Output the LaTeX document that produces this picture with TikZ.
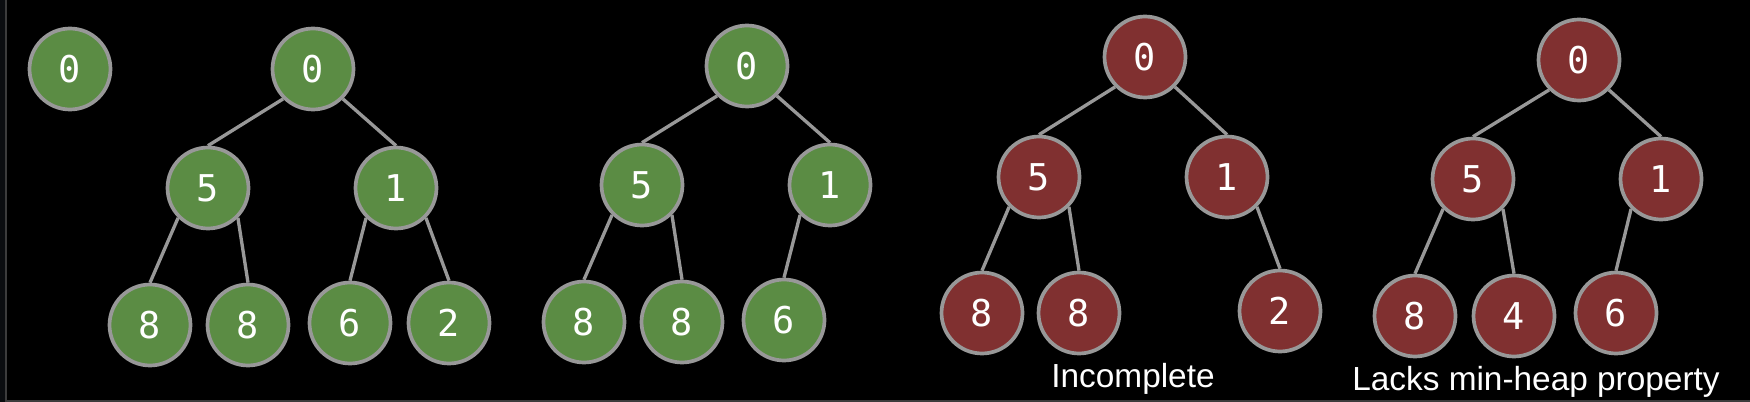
\documentclass[tikz,border=0pt]{standalone}
\usepackage{fontspec}
\setmainfont{Liberation Sans}
\newfontfamily\keyfont{DejaVu Sans Mono}
\usepackage{tikz}
\usetikzlibrary{positioning}
\definecolor{heapgreen}{RGB}{91,140,68}
\definecolor{heapred}{RGB}{128,48,48}
\definecolor{rimgray}{RGB}{152,152,152}
\definecolor{framegray}{RGB}{60,60,60}
\definecolor{stripgray}{RGB}{11,13,16}
\tikzstyle{keynode} = [circle, draw=rimgray, line width=2.1pt, minimum size=1.62cm, inner sep=0pt, text=white, font=\keyfont\fontsize{21}{21}\selectfont]
\tikzstyle{goodheap} = [keynode, fill=heapgreen]
\tikzstyle{badheap} = [keynode, fill=heapred]
\tikzstyle{edge} = [draw=rimgray, line width=1.9pt]
\tikzstyle{caption} = [text=white, anchor=base, inner sep=0pt, font=\fontsize{19}{19}\selectfont]

\begin{document}
\begin{tikzpicture}[x=0.02cm, y=-0.02cm]
%% background
\useasboundingbox (0, 0) rectangle (1750, 402);
\fill[black] (0, 0) rectangle (1750, 402);
\fill[stripgray] (0, 0) rectangle (5.5, 402);
\draw[framegray, line width=0.8pt] (6, 0) -- (6, 401) -- (1750, 401);

%% single node
\node[goodheap] (S0) at (70, 69) {0};

%% full heap
\begin{scope}[shift={(313, 69)}]
\node[goodheap] (A0) at (0, 0) {0};
\node[goodheap] (A5) at (-105, 119) {5};
\node[goodheap] (A1) at (83, 119) {1};
\node[goodheap] (A8l) at (-163, 256) {8};
\node[goodheap] (A8r) at (-65, 256) {8};
\node[goodheap] (A6) at (37, 254) {6};
\node[goodheap] (A2) at (136, 254) {2};
\draw[edge] (A0.south west) -- (A5.north);
\draw[edge] (A0.south east) -- (A1.north);
\draw[edge] (A5.south west) -- (A8l.north);
\draw[edge] (A5.south east) -- (A8r.north);
\draw[edge] (A1.south west) -- (A6.north);
\draw[edge] (A1.south east) -- (A2.north);
\end{scope}

%% last level filled from the left
\begin{scope}[shift={(747, 66)}]
\node[goodheap] (B0) at (0, 0) {0};
\node[goodheap] (B5) at (-105, 119) {5};
\node[goodheap] (B1) at (83, 119) {1};
\node[goodheap] (B8l) at (-163, 256) {8};
\node[goodheap] (B8r) at (-65, 256) {8};
\node[goodheap] (B6) at (37, 254) {6};
\draw[edge] (B0.south west) -- (B5.north);
\draw[edge] (B0.south east) -- (B1.north);
\draw[edge] (B5.south west) -- (B8l.north);
\draw[edge] (B5.south east) -- (B8r.north);
\draw[edge] (B1.south west) -- (B6.north);
\end{scope}

%% gap in the last level
\begin{scope}[shift={(1145, 57)}]
\node[badheap] (C0) at (0, 0) {0};
\node[badheap] (C5) at (-106, 120) {5};
\node[badheap] (C1) at (82, 120) {1};
\node[badheap] (C8l) at (-163, 256) {8};
\node[badheap] (C8r) at (-66, 256) {8};
\node[badheap] (C2) at (135, 254) {2};
\draw[edge] (C0.south west) -- (C5.north);
\draw[edge] (C0.south east) -- (C1.north);
\draw[edge] (C5.south west) -- (C8l.north);
\draw[edge] (C5.south east) -- (C8r.north);
\draw[edge] (C1.south east) -- (C2.north);
\end{scope}
\node[caption] (Cnote) at (1133, 387) {Incomplete};

%% child smaller than parent
\begin{scope}[shift={(1579, 60)}]
\node[badheap] (D0) at (0, 0) {0};
\node[badheap] (D5) at (-106, 119) {5};
\node[badheap] (D1) at (82, 119) {1};
\node[badheap] (D8) at (-164, 256) {8};
\node[badheap] (D4) at (-65, 256) {4};
\node[badheap] (D6) at (37, 253) {6};
\draw[edge] (D0.south west) -- (D5.north);
\draw[edge] (D0.south east) -- (D1.north);
\draw[edge] (D5.south west) -- (D8.north);
\draw[edge] (D5.south east) -- (D4.north);
\draw[edge] (D1.south west) -- (D6.north);
\end{scope}
\node[caption] (Dnote) at (1536, 390) {Lacks min-heap property};
\end{tikzpicture}
\end{document}
